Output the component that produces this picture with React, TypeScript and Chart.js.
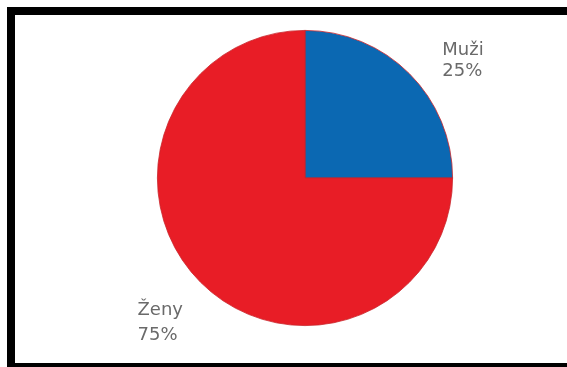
import React, { useEffect, useRef } from "react";
import { Chart, registerables } from "chart.js";

Chart.register(...registerables);

const categories: string[] = ["Muži", "Ženy"];
const shares: number[] = [25, 75];
const sliceColors: string[] = ["#0b68b2", "#e81d26"];

// label anchor offsets, in units of pie radius from the pie centre
const labelOffsets: { dx: number; dy1: number; dy2: number }[] = [
  { dx: 0.93, dy1: -0.83, dy2: -0.69 },
  { dx: -1.135, dy1: 0.925, dy2: 1.1 },
];

const labelPlugin = {
  id: "sliceLabels",
  afterDraw(chart: any) {
    const meta = chart.getDatasetMeta(0);
    const arc = meta.data[0];
    if (!arc) return;
    const { x, y, outerRadius } = arc.getProps(["x", "y", "outerRadius"], true);
    const ctx = chart.ctx;
    ctx.save();
    ctx.font = '18px "DejaVu Sans", sans-serif';
    ctx.fillStyle = "#6a6a6a";
    ctx.textAlign = "left";
    ctx.textBaseline = "alphabetic";
    categories.forEach((cat, i) => {
      const o = labelOffsets[i];
      const tx = x + o.dx * outerRadius;
      ctx.fillText(cat, tx, y + o.dy1 * outerRadius);
      ctx.fillText(`${shares[i]}%`, tx, y + o.dy2 * outerRadius);
    });
    ctx.restore();
  },
};

export default function App() {
  const canvasRef = useRef<HTMLCanvasElement | null>(null);

  useEffect(() => {
    document.body.style.margin = "0";
    document.body.style.overflow = "hidden";
    document.body.style.background = "#ffffff";
    const canvas = canvasRef.current;
    if (!canvas) return;
    const chart = new Chart(canvas, {
      type: "pie",
      data: {
        labels: categories,
        datasets: [
          {
            data: shares,
            backgroundColor: sliceColors,
            borderColor: "#c9232a",
            borderWidth: 0.8,
          },
        ],
      },
      options: {
        responsive: false,
        animation: false,
        layout: { padding: { left: 157, right: 114, top: 30, bottom: 41 } },
        plugins: {
          legend: { display: false },
          tooltip: { enabled: false },
        },
      },
      plugins: [labelPlugin],
    });
    return () => chart.destroy();
  }, []);

  return (
    <div
      style={{
        position: "fixed",
        left: 0,
        top: 0,
        width: "100vw",
        height: "100vh",
        overflow: "hidden",
        background: "#ffffff",
      }}
    >
      <div
        style={{
          position: "absolute",
          left: 7,
          top: 7,
          width: 600,
          height: 364,
          borderTop: "8px solid #000",
          borderLeft: "8px solid #000",
          borderBottom: "8px solid #000",
          borderRight: "none",
          boxSizing: "border-box",
        }}
      />
      <canvas
        ref={canvasRef}
        width={567}
        height={367}
        style={{ position: "absolute", left: 0, top: 0, width: 567, height: 367 }}
      />
    </div>
  );
}
